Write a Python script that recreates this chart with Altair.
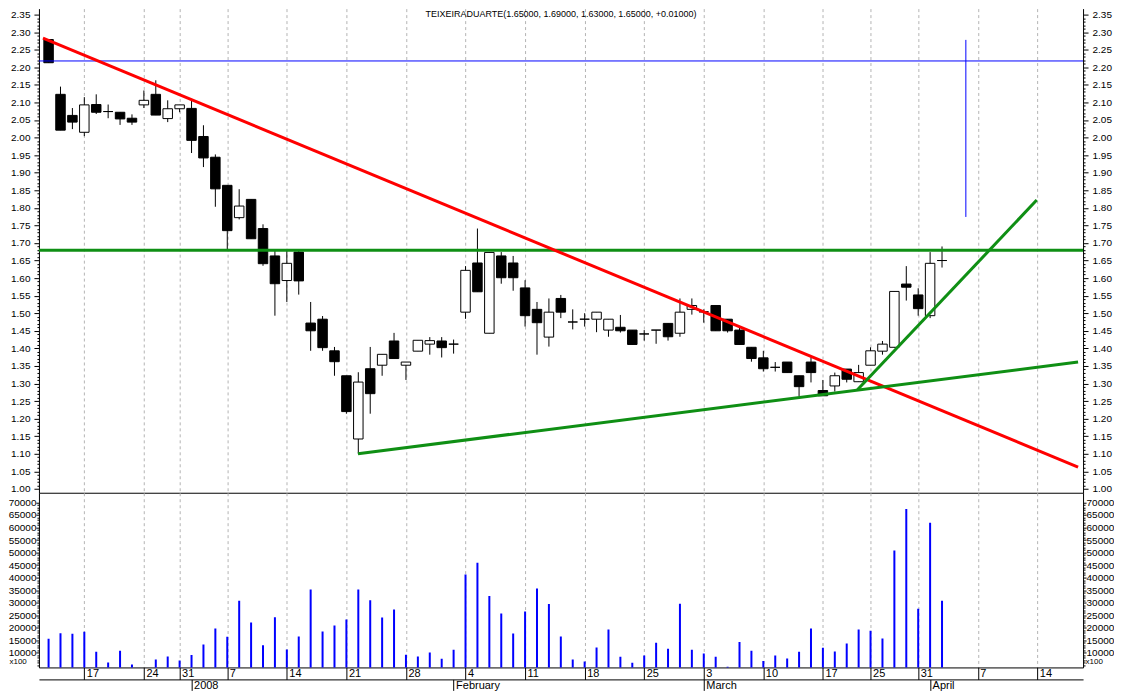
import altair as alt
import pandas as pd

# ---------------- data ----------------
dates = ["2007-12-12", "2007-12-13", "2007-12-14", "2007-12-17", "2007-12-18", "2007-12-19",
         "2007-12-20", "2007-12-21", "2007-12-24", "2007-12-27", "2007-12-28", "2007-12-31",
         "2008-01-02", "2008-01-03", "2008-01-04", "2008-01-07", "2008-01-08", "2008-01-09",
         "2008-01-10", "2008-01-11", "2008-01-14", "2008-01-15", "2008-01-16", "2008-01-17",
         "2008-01-18", "2008-01-21", "2008-01-22", "2008-01-23", "2008-01-24", "2008-01-25",
         "2008-01-28", "2008-01-29", "2008-01-30", "2008-01-31", "2008-02-01", "2008-02-04",
         "2008-02-05", "2008-02-06", "2008-02-07", "2008-02-08", "2008-02-11", "2008-02-12",
         "2008-02-13", "2008-02-14", "2008-02-15", "2008-02-18", "2008-02-19", "2008-02-20",
         "2008-02-21", "2008-02-22", "2008-02-25", "2008-02-26", "2008-02-27", "2008-02-28",
         "2008-02-29", "2008-03-03", "2008-03-04", "2008-03-05", "2008-03-06", "2008-03-07",
         "2008-03-10", "2008-03-11", "2008-03-12", "2008-03-13", "2008-03-14", "2008-03-17",
         "2008-03-18", "2008-03-19", "2008-03-20", "2008-03-25", "2008-03-26", "2008-03-27",
         "2008-03-28", "2008-03-31", "2008-04-01", "2008-04-02"]

opens = [2.279, 2.123, 2.063, 2.015, 2.094, 2.074, 2.072, 2.055, 2.093, 2.123,
         2.054, 2.082, 2.083, 2.003, 1.944, 1.864, 1.772, 1.824, 1.741, 1.663,
         1.593, 1.674, 1.472, 1.483, 1.393, 1.322, 1.142, 1.342, 1.352, 1.421,
         1.352, 1.392, 1.412, 1.421, 1.412, 1.503, 1.643, 1.443, 1.663, 1.643,
         1.572, 1.511, 1.432, 1.542, 1.475, 1.483, 1.483, 1.452, 1.460, 1.452,
         1.441, 1.452, 1.471, 1.443, 1.511, 1.504, 1.522, 1.483, 1.452, 1.403,
         1.373, 1.346, 1.361, 1.322, 1.361, 1.280, 1.293, 1.341, 1.305, 1.352,
         1.392, 1.403, 1.583, 1.552, 1.493, 1.650]
highs = [2.279, 2.145, 2.084, 2.115, 2.123, 2.094, 2.072, 2.066, 2.134, 2.163,
         2.106, 2.093, 2.106, 2.035, 1.952, 1.864, 1.853, 1.824, 1.753, 1.680,
         1.680, 1.678, 1.532, 1.492, 1.404, 1.322, 1.332, 1.404, 1.383, 1.444,
         1.361, 1.423, 1.432, 1.432, 1.425, 1.634, 1.741, 1.673, 1.674, 1.663,
         1.594, 1.532, 1.542, 1.552, 1.511, 1.500, 1.503, 1.483, 1.495, 1.452,
         1.452, 1.452, 1.471, 1.542, 1.542, 1.511, 1.522, 1.483, 1.462, 1.403,
         1.393, 1.361, 1.361, 1.322, 1.374, 1.310, 1.331, 1.341, 1.353, 1.403,
         1.421, 1.562, 1.634, 1.571, 1.674, 1.690]
lows = [2.213, 2.021, 2.024, 2.004, 2.067, 2.055, 2.036, 2.036, 2.084, 2.064,
        2.044, 2.072, 1.956, 1.916, 1.803, 1.680, 1.767, 1.712, 1.635, 1.493,
        1.532, 1.553, 1.393, 1.393, 1.322, 1.214, 1.100, 1.214, 1.322, 1.371,
        1.310, 1.392, 1.382, 1.374, 1.385, 1.484, 1.561, 1.443, 1.584, 1.564,
        1.462, 1.382, 1.405, 1.486, 1.454, 1.462, 1.446, 1.433, 1.445, 1.411,
        1.422, 1.413, 1.422, 1.433, 1.496, 1.473, 1.450, 1.445, 1.411, 1.362,
        1.334, 1.334, 1.331, 1.263, 1.303, 1.265, 1.277, 1.303, 1.305, 1.352,
        1.382, 1.403, 1.536, 1.493, 1.486, 1.630]
closes = [2.213, 2.021, 2.044, 2.093, 2.072, 2.074, 2.053, 2.044, 2.106, 2.064,
          2.082, 2.093, 1.992, 1.942, 1.854, 1.735, 1.805, 1.712, 1.641, 1.584,
          1.642, 1.592, 1.450, 1.402, 1.362, 1.220, 1.304, 1.271, 1.383, 1.371,
          1.361, 1.423, 1.422, 1.402, 1.412, 1.622, 1.561, 1.673, 1.601, 1.601,
          1.493, 1.473, 1.503, 1.503, 1.475, 1.483, 1.503, 1.483, 1.450, 1.411,
          1.441, 1.452, 1.433, 1.503, 1.522, 1.504, 1.450, 1.450, 1.411, 1.371,
          1.342, 1.346, 1.331, 1.291, 1.331, 1.265, 1.322, 1.312, 1.331, 1.393,
          1.412, 1.562, 1.574, 1.513, 1.642, 1.650]
volumes = [15600, 17800, 17600, 18400, 10400, 6100, 10800, 5300, 0, 7300,
           8500, 6900, 9100, 13300, 19700, 16400, 30800, 22100, 13000, 24200,
           11300, 16500, 35200, 18500, 20900, 23300, 35200, 31000, 24100, 27300,
           9200, 8500, 10100, 7600, 11200, 41200, 45900, 32700, 25700, 17700,
           26500, 35600, 29500, 16500, 7300, 6500, 12100, 19300, 8400, 6000,
           8900, 14000, 11600, 29600, 11200, 9700, 8400, 4400, 14300, 10800,
           6700, 8900, 7700, 10400, 19700, 12000, 10500, 13700, 19300, 18800,
           15700, 50800, 67400, 27600, 61900, 30800]

week_tick_idx = [3, 8, 11, 15, 20, 25, 30, 35, 40, 45, 50, 55, 60, 65, 69, 73, 78, 83]
week_tick_labels = ["17", "24", "31", "7", "14", "21", "28", "4", "11", "18", "25",
                    "3", "10", "17", "25", "31", "7", "14"]
month_tick_idx = [12, 34, 55, 74]
month_tick_labels = ["2008", "February", "March", "April"]

# trend lines (day index, price)
red_x = [-0.47, 86.42]
red_y = [2.283, 1.062]
support_x = [25.97, 86.42]
support_y = [1.100, 1.361]
steep_x = [67.9, 82.95]
steep_y = [1.282, 1.822]
resistance_level = [1.679]
blue_level = [2.218]
cursor_idx = [77]
cursor_low = [1.774]
cursor_high = [2.278]

title_text = ["TEIXEIRADUARTE(1.65000, 1.69000, 1.63000, 1.65000, +0.01000)"]

price_ticks = [round(1.00 + 0.01 * i, 2) for i in range(136)]   # 1.00 .. 2.35
vol_ticks = list(range(5000, 71000, 1000))                      # 5000 .. 70000

# ---------------- frames ----------------
n = len(opens)
candles = pd.DataFrame({
    "idx": list(range(n)), "date": dates, "open": opens, "high": highs,
    "low": lows, "close": closes,
    "dir": ["up" if c >= o else "down" for o, c in zip(opens, closes)],
})
vol_df = pd.DataFrame({"idx": list(range(n)), "volume": volumes})
red_df = pd.DataFrame({"idx": red_x, "price": red_y})
sup_df = pd.DataFrame({"idx": support_x, "price": support_y})
steep_df = pd.DataFrame({"idx": steep_x, "price": steep_y})
res_df = pd.DataFrame({"price": resistance_level})
blue_df = pd.DataFrame({"price": blue_level})
cur_df = pd.DataFrame({"idx": cursor_idx, "lo": cursor_low, "hi": cursor_high})
title_df = pd.DataFrame({"label": title_text})

# ---------------- scales & axes ----------------
FONT = "Liberation Sans"
X_DOMAIN = [-0.39, 86.42]
Y_DOMAIN = [0.989, 2.367]
xscale = alt.Scale(domain=X_DOMAIN, nice=False, zero=False)
yscale = alt.Scale(domain=Y_DOMAIN, nice=False, zero=False)
vscale = alt.Scale(domain=[4143, 73865], nice=False, zero=False)

GRID = "#b4b4b4"
price_xaxis = alt.Axis(orient="bottom", values=week_tick_idx, grid=True, gridColor=GRID,
                       gridDash=[3, 3], labels=False, ticks=False, domain=True,
                       domainColor="black", title=None)

def sel_expr(vals, labels):
    return "[" + ",".join("'%s'" % l for l in labels) + "][indexof([" + \
        ",".join(str(v) for v in vals) + "], datum.value)]"

day_axis = alt.Axis(orient="bottom", values=week_tick_idx,
                    labelExpr=sel_expr(week_tick_idx, week_tick_labels),
                    grid=True, gridColor=GRID, gridDash=[3, 3], tickSize=12,
                    tickColor="black", domainColor="black", labelAlign="left",
                    labelBaseline="bottom", labelPadding=-1, labelOffset=2,
                    labelFontSize=11, labelOverlap=False, labelFlush=False, title=None)
month_axis = alt.Axis(orient="bottom", values=month_tick_idx,
                      labelExpr=sel_expr(month_tick_idx, month_tick_labels),
                      grid=False, offset=12, tickSize=11, tickColor="black",
                      domainColor="black", labelAlign="left", labelBaseline="bottom",
                      labelPadding=0, labelOffset=2, labelFontSize=11, labelOverlap=False,
                      labelFlush=False, title=None)

price_major = "round(datum.value*100) % 5 == 0"
price_label = "round(datum.value*100) % 5 == 0 ? format(datum.value, '.2f') : ''"
vol_major = "datum.value % 5000 == 0 && datum.value >= 10000"
vol_label = "datum.value % 5000 == 0 && datum.value >= 10000 ? format(datum.value, 'd') : ''"

price_left = alt.Axis(orient="left", values=price_ticks, labelExpr=price_label,
                      tickSize={"condition": {"test": price_major, "value": 5}, "value": 2},
                      labelPadding=4, labelOverlap=False, labelFlush=False, grid=False,
                      title=None, minExtent=31, maxExtent=31)
price_right = alt.Axis(orient="right", values=price_ticks, labelExpr=price_label,
                       tickSize={"condition": {"test": price_major, "value": 5}, "value": 2},
                       labelPadding=4, labelOverlap=False, labelFlush=False, grid=False,
                       title=None, maxExtent=29)
vol_left = alt.Axis(orient="left", values=vol_ticks, labelExpr=vol_label,
                    tickSize={"condition": {"test": vol_major, "value": 3}, "value": 2},
                    labelPadding=0, labelOverlap=False, labelFlush=False, grid=False,
                    title="x100", titleAngle=0, titleX=-30, titleY=173, titleAlign="left",
                    titleBaseline="bottom", titleFontSize=8, titleFontWeight="normal",
                    minExtent=31, maxExtent=31)
vol_right = alt.Axis(orient="right", values=vol_ticks, labelExpr=vol_label,
                     tickSize={"condition": {"test": vol_major, "value": 3}, "value": 2},
                     labelPadding=0, labelOverlap=False, labelFlush=False, grid=False,
                     title="x100", titleAngle=0, titleX=2, titleY=173, titleAlign="left",
                     titleBaseline="bottom", titleFontSize=8, titleFontWeight="normal",
                     maxExtent=31)

GREEN = "#0f8f14"

# ---------------- price panel ----------------
X = lambda f: alt.X(f, type="quantitative", scale=xscale, axis=price_xaxis)

wicks = alt.Chart(candles).mark_rule(color="black", strokeWidth=1).encode(
    x=X("idx"),
    y=alt.Y("low:Q", scale=yscale, axis=price_left),
    y2="high:Q",
)
bodies = alt.Chart(candles).mark_bar(size=9.5, stroke="black", strokeWidth=1).encode(
    x=X("idx"),
    y=alt.Y("open:Q", scale=yscale, axis=None),
    y2="close:Q",
    fill=alt.Fill("dir:N", scale=alt.Scale(domain=["up", "down"], range=["white", "black"]),
                  legend=None),
)
red_line = alt.Chart(red_df).mark_line(color="#ff0000", strokeWidth=3, clip=True).encode(
    x=X("idx"), y=alt.Y("price:Q", scale=yscale, axis=None))
sup_line = alt.Chart(sup_df).mark_line(color=GREEN, strokeWidth=3, clip=True).encode(
    x=X("idx"), y=alt.Y("price:Q", scale=yscale, axis=None))
steep_line = alt.Chart(steep_df).mark_line(color=GREEN, strokeWidth=3, clip=True).encode(
    x=X("idx"), y=alt.Y("price:Q", scale=yscale, axis=None))
res_line = alt.Chart(res_df).mark_rule(color=GREEN, strokeWidth=3).encode(
    y=alt.Y("price:Q", scale=yscale, axis=None))
blue_line = alt.Chart(blue_df).mark_rule(color="#0000ff", strokeWidth=1).encode(
    y=alt.Y("price:Q", scale=yscale, axis=None))
cursor = alt.Chart(cur_df).mark_rule(color="#0000ff", strokeWidth=1).encode(
    x=X("idx"), y=alt.Y("lo:Q", scale=yscale, axis=None), y2="hi:Q")
right_axis_layer = alt.Chart(res_df).mark_rule(opacity=0).encode(
    y=alt.Y("price:Q", scale=yscale, axis=price_right))
# chart caption, anchored at the top centre of the price scale
title_mark = alt.Chart(title_df).mark_text(
    font=FONT, fontSize=9, color="black", align="center", baseline="top", dy=1
).encode(
    x=alt.X(datum=(X_DOMAIN[0] + X_DOMAIN[1]) / 2, type="quantitative", scale=xscale,
            axis=price_xaxis),
    y=alt.Y(datum=Y_DOMAIN[1], type="quantitative", scale=yscale, axis=None),
    text="label:N",
)

price = alt.layer(
    wicks, bodies, blue_line, res_line, red_line, sup_line, steep_line, cursor,
    title_mark, right_axis_layer
).resolve_axis(y="independent").properties(width=1046, height=485)

# ---------------- volume panel ----------------
vbars = alt.Chart(vol_df).mark_bar(size=2, color="#0000ff", clip=True).encode(
    x=alt.X("idx:Q", scale=xscale, axis=day_axis),
    y=alt.Y("volume:Q", scale=vscale, axis=vol_left),
)
vaxis_layer = alt.Chart(vol_df).mark_bar(opacity=0, size=2, clip=True).encode(
    x=alt.X("idx:Q", scale=xscale, axis=month_axis),
    y=alt.Y("volume:Q", scale=vscale, axis=vol_right),
)
volume = alt.layer(vbars, vaxis_layer).resolve_axis(x="independent", y="independent").properties(
    width=1046, height=175)

chart = alt.vconcat(price, volume, spacing=0, bounds="flush").properties(padding=0).configure_view(
    stroke=None
).configure_axis(
    labelFont=FONT, labelFontSize=10, labelColor="black", tickColor="black",
    domainColor="black", titleFont=FONT, titleColor="black",
)

chart.save("out.html", embed_options={"renderer": "svg", "actions": False})
